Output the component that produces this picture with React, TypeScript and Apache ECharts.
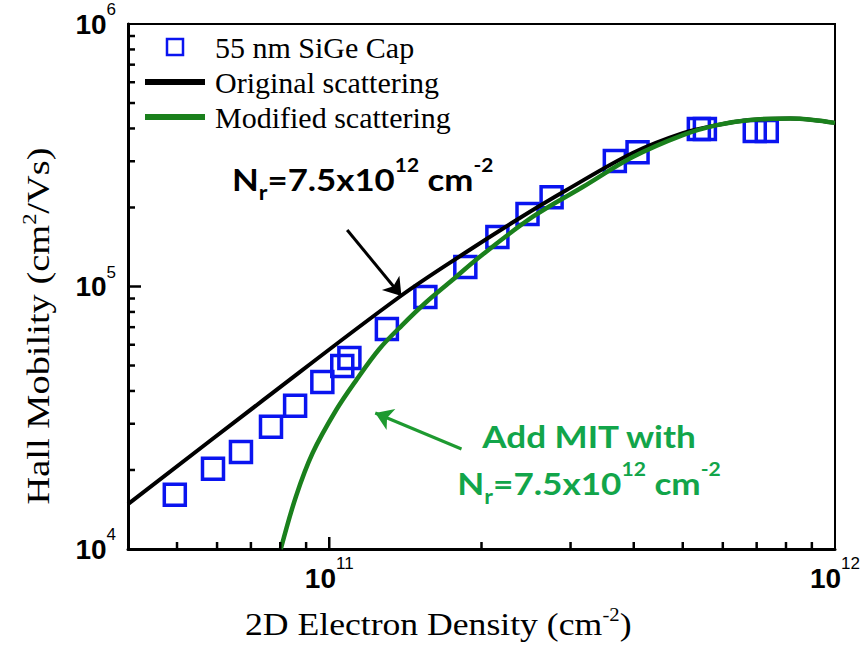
import React, { useEffect, useRef } from 'react';
import * as echarts from 'echarts';

// ---- data ----
const sampleDensity = [4.95e10, 5.89e10, 6.69e10, 7.67e10, 8.56e10, 9.69e10, 1.061e11, 1.096e11, 1.30e11, 1.549e11, 1.858e11, 2.15e11, 2.466e11, 2.752e11, 3.67e11, 4.07e11, 5.38e11, 5.53e11, 6.94e11, 7.33e11];
const sampleMobility = [1.61e4, 2.02e4, 2.34e4, 2.92e4, 3.51e4, 4.33e4, 4.98e4, 5.34e4, 6.89e4, 9.12e4, 1.187e5, 1.544e5, 1.89e5, 2.19e5, 3.01e5, 3.25e5, 3.98e5, 3.98e5, 3.91e5, 3.91e5];

const originalDensity = [4e10, 7.4e10, 1.376e11, 1.867e11, 2.346e11, 2.946e11, 3.98e11, 5.0e11, 5.84e11, 6.79e11, 8.15e11, 9.05e11, 1e12];
const originalMobility = [1.483e4, 3.69e4, 9.12e4, 1.353e5, 1.792e5, 2.331e5, 3.226e5, 3.84e5, 4.12e5, 4.31e5, 4.365e5, 4.31e5, 4.2e5];

const modifiedDensity = [8.02e10, 8.59e10, 9.27e10, 1.032e11, 1.131e11, 1.256e11, 1.394e11, 1.556e11, 1.752e11, 1.982e11, 2.523e11, 3.17e11, 3.98e11, 5.0e11, 5.84e11, 6.79e11, 8.15e11, 9.05e11, 1e12];
const modifiedMobility = [1e4, 1.582e4, 2.321e4, 3.384e4, 4.4e4, 5.78e4, 7.13e4, 8.73e4, 1.059e5, 1.296e5, 1.84e5, 2.393e5, 3.114e5, 3.776e5, 4.12e5, 4.31e5, 4.365e5, 4.31e5, 4.2e5];

const xMin = 4e10;
const xMax = 1e12;
const yMin = 1e4;
const yMax = 1e6;

const xTickValues = [5e10, 6e10, 7e10, 8e10, 9e10, 1e11, 2e11, 3e11, 4e11, 5e11, 6e11, 7e11, 8e11, 9e11];
const yTickValues = [2e4, 3e4, 4e4, 5e4, 6e4, 7e4, 8e4, 9e4, 1e5, 2e5, 3e5, 4e5, 5e5, 6e5, 7e5, 8e5, 9e5];

const originalArrow = [[1.085e11, 1.641e5], [1.389e11, 9.2e4]];
const modifiedArrow = [[1.826e11, 2.404e4], [1.233e11, 3.297e4]];

const seriesNames = ['55 nm SiGe Cap', 'Original scattering', 'Modified scattering'];

const xTitle = '{t|2D Electron Density (cm}{s|-2}{t|)}';
const yTitle = '{t|Hall Mobility (cm}{s|2}{t|/Vs)}';
const nrText = '{m|N}{sub|r}{m|=7.5x10}{sup|12}{m| cm}{sup|-2}';
const mitText = '{m|Add MIT with}\n' + nrText;

const isPow10 = (v: number) => {
  const l = Math.log10(v);
  return Math.abs(l - Math.round(l)) < 1e-4;
};

const CURVE_GREEN = '#1a801c';
const TEXT_GREEN = '#12a54a';
const ARROW_GREEN = '#1e9a30';

const serifRich = {
  t: { fontFamily: 'Liberation Serif', fontSize: 31, lineHeight: 36, color: '#000' },
  s: { fontFamily: 'Liberation Serif', fontSize: 18, lineHeight: 20, verticalAlign: 'top', color: '#000' },
};

const annoRich = (color: string) => ({
  m: { fontFamily: 'Lato', fontWeight: 'bold', fontSize: 30, lineHeight: 47, color },
  sup: { fontFamily: 'Lato', fontWeight: 'bold', fontSize: 18, lineHeight: 38, verticalAlign: 'top', color },
  sub: { fontFamily: 'Lato', fontWeight: 'bold', fontSize: 20, lineHeight: 21, verticalAlign: 'bottom', color },
});

const tickLabelRich = {
  b: { fontFamily: 'Liberation Sans', fontWeight: 'bold', fontSize: 28, lineHeight: 46, color: '#000' },
  s: { fontFamily: 'Liberation Sans', fontSize: 17, lineHeight: 14, verticalAlign: 'top', color: '#000' },
};

const powLabel = (v: number) => (isPow10(v) ? `{b|10}{s|${Math.round(Math.log10(v))}}` : '');

const linePathIcon = 'path://M0,0H60V6H0Z';

export default function App() {
  const ref = useRef<HTMLDivElement>(null);

  useEffect(() => {
    if (!ref.current) return;
    const chart = echarts.init(ref.current, undefined, { renderer: 'svg' });

    const textGraphics: any[] = [
      {
        type: 'text',
        x: 245,
        y: 606,
        scaleX: 1.15,
        silent: true,
        style: { text: xTitle, rich: serifRich, textAlign: 'left', textVerticalAlign: 'top', fill: '#000' },
      },
      {
        type: 'text',
        x: 39,
        y: 326,
        rotation: Math.PI / 2,
        scaleX: 1.24,
        silent: true,
        style: { text: yTitle, rich: serifRich, textAlign: 'center', textVerticalAlign: 'middle', fill: '#000' },
      },
      {
        type: 'text',
        x: 232,
        y: 156,
        scaleX: 1.16,
        silent: true,
        style: { text: nrText, rich: annoRich('#000'), textAlign: 'left', textVerticalAlign: 'top', fill: '#000' },
      },
      {
        type: 'text',
        x: 589,
        y: 413,
        scaleX: 1.17,
        silent: true,
        style: { text: mitText, rich: annoRich(TEXT_GREEN), textAlign: 'center', textVerticalAlign: 'top', fill: TEXT_GREEN },
      },
    ];

    const option: any = {
      animation: false,
      backgroundColor: '#fff',
      grid: {
        left: 128,
        right: 32,
        top: 24,
        bottom: 100,
        show: true,
        borderColor: '#000',
        borderWidth: 2,
        backgroundColor: 'rgba(255,255,255,0)',
        containLabel: false,
        outerBoundsMode: 'none',
      },
      legend: {
        orient: 'vertical',
        left: 140,
        top: 27,
        itemWidth: 60,
        itemHeight: 16,
        itemGap: 5,
        symbolKeepAspect: true,
        selectedMode: false,
        textStyle: { fontFamily: 'Liberation Serif', fontSize: 30, lineHeight: 30, color: '#000', padding: [0, 0, 0, 5] },
        data: [
          { name: seriesNames[0], icon: 'path://M0,0H10V10H0Z', itemStyle: { borderWidth: 2.5 } },
          { name: seriesNames[1], icon: linePathIcon, itemStyle: { color: '#000', borderWidth: 0 } },
          { name: seriesNames[2], icon: linePathIcon, itemStyle: { color: CURVE_GREEN, borderWidth: 0 } },
        ],
      },
      xAxis: {
        type: 'log',
        logBase: 10,
        min: xMin,
        max: xMax,
        axisLine: { show: true, lineStyle: { color: '#000', width: 3 } },
        axisTick: { show: false },
        minorTick: { show: false },
        splitLine: { show: false },
        axisLabel: { margin: 6, formatter: powLabel, rich: tickLabelRich, hideOverlap: false, showMinLabel: true, showMaxLabel: true },
      },
      yAxis: {
        type: 'log',
        logBase: 10,
        min: yMin,
        max: yMax,
        axisLine: { show: true, lineStyle: { color: '#000', width: 3 } },
        axisTick: { show: false },
        minorTick: { show: false },
        splitLine: { show: false },
        axisLabel: { margin: 12, formatter: powLabel, rich: tickLabelRich, showMinLabel: true, showMaxLabel: true },
      },
      series: [
        {
          name: seriesNames[0],
          type: 'scatter',
          symbol: 'rect',
          symbolSize: 21,
          z: 3,
          itemStyle: { color: 'rgba(0,0,0,0)', borderColor: '#0a14f0', borderWidth: 3.5, opacity: 1 },
          emphasis: { disabled: true },
          data: sampleDensity.map((x, i) => [x, sampleMobility[i]]),
        },
        {
          name: seriesNames[1],
          type: 'line',
          symbol: 'none',
          smooth: 0.35,
          z: 4,
          lineStyle: { color: '#000', width: 4 },
          itemStyle: { color: '#000' },
          data: originalDensity.map((x, i) => [x, originalMobility[i]]),
          markLine: {
            silent: true,
            symbol: ['none', 'arrow'],
            symbolSize: 17,
            label: { show: false },
            lineStyle: { color: '#000', width: 3, type: 'solid' },
            emphasis: { disabled: true },
            data: [[{ coord: originalArrow[0] }, { coord: originalArrow[1] }]],
          },
        },
        {
          name: seriesNames[2],
          type: 'line',
          symbol: 'none',
          smooth: 0.35,
          z: 5,
          lineStyle: { color: CURVE_GREEN, width: 4.5 },
          itemStyle: { color: CURVE_GREEN },
          data: modifiedDensity.map((x, i) => [x, modifiedMobility[i]]),
          markLine: {
            silent: true,
            symbol: ['none', 'arrow'],
            symbolSize: 17,
            label: { show: false },
            lineStyle: { color: ARROW_GREEN, width: 3, type: 'solid' },
            emphasis: { disabled: true },
            data: [[{ coord: modifiedArrow[0] }, { coord: modifiedArrow[1] }]],
          },
        },
      ],
      graphic: textGraphics,
    };

    chart.setOption(option);

    // inward tick marks placed through the chart's own log scales
    const tickLines: any[] = [];
    xTickValues.forEach((v) => {
      const p = chart.convertToPixel({ gridIndex: 0 }, [v, yMin]) as number[];
      const len = isPow10(v) ? 12 : 7;
      tickLines.push({
        type: 'line',
        z: 100,
        silent: true,
        shape: { x1: p[0], y1: p[1], x2: p[0], y2: p[1] - len },
        style: { stroke: '#000', lineWidth: 2.5 },
      });
    });
    yTickValues.forEach((v) => {
      const p = chart.convertToPixel({ gridIndex: 0 }, [xMin, v]) as number[];
      const len = isPow10(v) ? 13 : 7;
      tickLines.push({
        type: 'line',
        z: 100,
        silent: true,
        shape: { x1: p[0], y1: p[1], x2: p[0] + len, y2: p[1] },
        style: { stroke: '#000', lineWidth: 2.5 },
      });
    });
    chart.setOption({ graphic: [...textGraphics, ...tickLines] });

    return () => {
      chart.dispose();
    };
  }, []);

  return <div ref={ref} style={{ position: 'absolute', left: 0, top: 0, width: 867, height: 649 }} />;
}
